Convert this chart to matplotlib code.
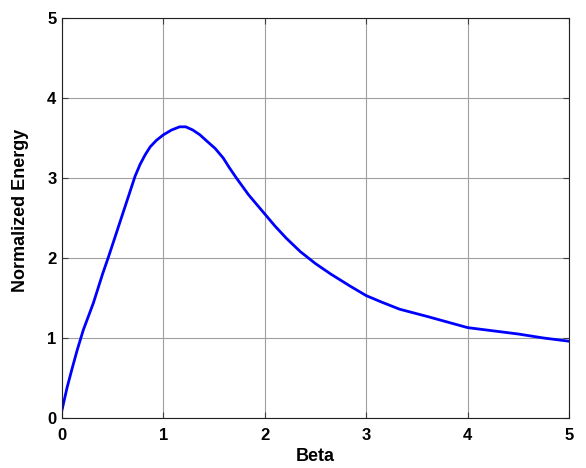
import matplotlib
matplotlib.use("Agg")
import matplotlib.pyplot as plt

beta = [0, 0.05, 0.1, 0.15, 0.21, 0.31, 0.4, 0.46, 0.52, 0.59, 0.65, 0.72, 0.77, 0.82,
        0.87, 0.93, 1.0, 1.08, 1.16, 1.22, 1.29, 1.36, 1.43, 1.51, 1.59, 1.65, 1.72,
        1.84, 2.0, 2.1, 2.21, 2.35, 2.5, 2.65, 2.84, 3.0, 3.15, 3.33, 3.6, 3.8, 4.0,
        4.25, 4.5, 4.75, 5.0]
energy = [0.1, 0.38, 0.62, 0.85, 1.1, 1.44, 1.8, 2.02, 2.25, 2.52, 2.75, 3.02, 3.17, 3.29,
          3.39, 3.47, 3.54, 3.6, 3.64, 3.64, 3.6, 3.54, 3.46, 3.37, 3.25, 3.13, 3.0,
          2.79, 2.55, 2.4, 2.25, 2.08, 1.93, 1.8, 1.65, 1.53, 1.45, 1.36, 1.27, 1.2, 1.13,
          1.09, 1.05, 1.0, 0.96]
xticks = [0, 1, 2, 3, 4, 5]
yticks = [0, 1, 2, 3, 4, 5]

plt.rcParams['font.family'] = ['Liberation Sans', 'DejaVu Sans']
fig = plt.figure(figsize=(5.86, 4.68), dpi=100)
ax = fig.add_axes([0.1058, 0.1068, 0.8652, 0.8547])
ax.plot(beta, energy, color='#0000ff', linewidth=2, solid_joinstyle='round')
ax.set_xlim(0, 5)
ax.set_ylim(0, 5)
ax.set_xticks(xticks)
ax.set_yticks(yticks)
ax.grid(True, color='#a0a0a0', linewidth=0.8)
ax.tick_params(direction='in', top=True, right=True, length=4, labelsize=12,
               color='#404040')
ax.tick_params(axis='x', pad=7)
ax.tick_params(axis='y', pad=4)
for lbl in ax.get_xticklabels() + ax.get_yticklabels():
    lbl.set_fontweight('bold')
for s in ax.spines.values():
    s.set_color('#202020')
    s.set_linewidth(0.8)
ax.set_xlabel('Beta', fontsize=13, fontweight='bold', labelpad=4)
ax.set_ylabel('Normalized Energy', fontsize=13, fontweight='bold')
ax.yaxis.set_label_coords(-0.066, 0.52)
fig.savefig('out.png', dpi=100)
